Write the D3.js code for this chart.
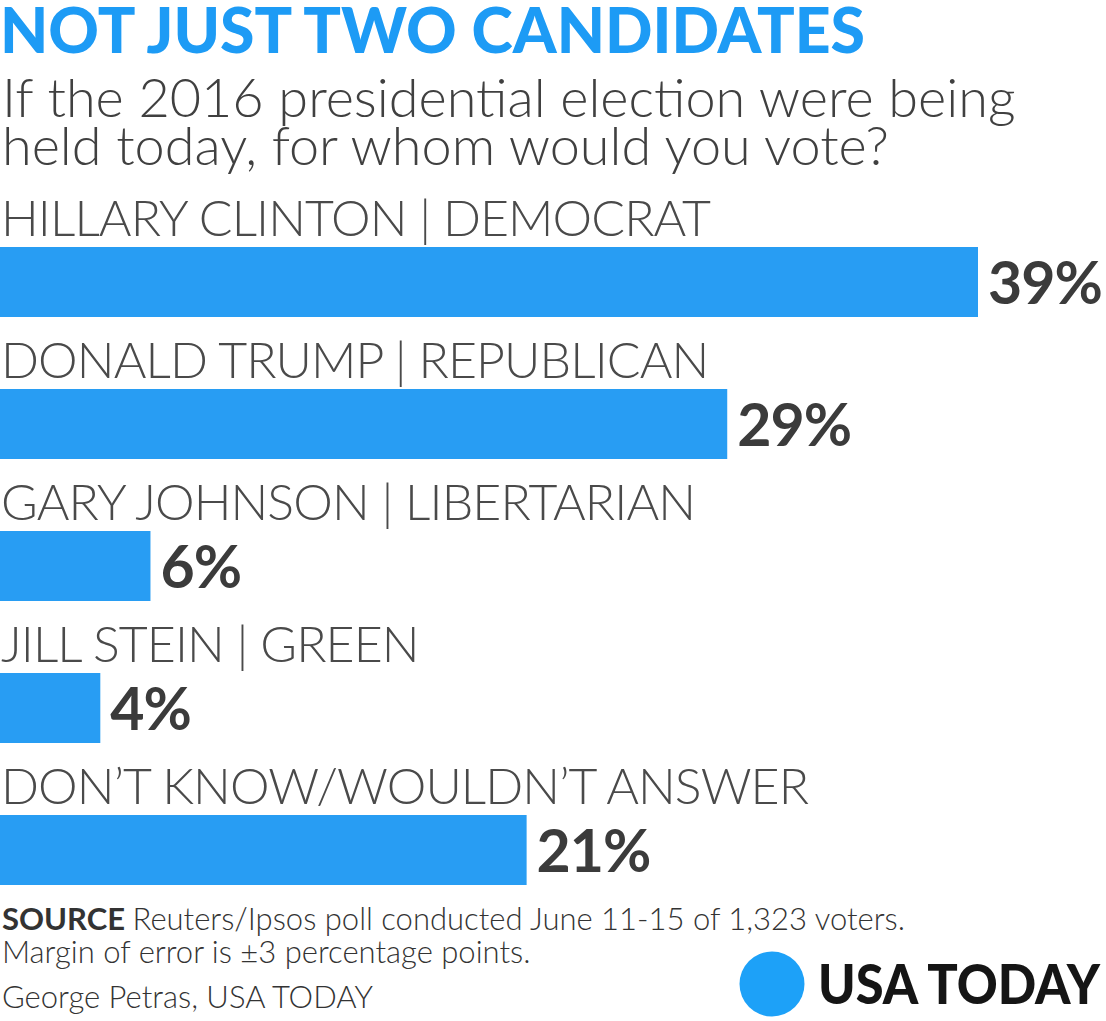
<!DOCTYPE html>
<html>
<head>
<meta charset="utf-8">
<script src="https://cdn.jsdelivr.net/npm/d3@7"></script>
<style>
  html, body { margin: 0; padding: 0; background: #fff; }
  svg { display: block; }
</style>
</head>
<body>
<svg id="chart" width="1106" height="1021"></svg>
<script>
const candidates = ["HILLARY CLINTON", "DONALD TRUMP", "GARY JOHNSON", "JILL STEIN", "DON’T KNOW/WOULDN’T ANSWER"];
const parties = ["DEMOCRAT", "REPUBLICAN", "LIBERTARIAN", "GREEN", ""];
const values = [39, 29, 6, 4, 21];
const title = "NOT JUST TWO CANDIDATES";
const subtitle = ["If the 2016 presidential election were being", "held today, for whom would you vote?"];
const sourceText = "Reuters/Ipsos poll conducted June 11-15 of 1,323 voters.";
const noteText = "Margin of error is ±3 percentage points.";
const credit = "George Petras, USA TODAY";

const svg = d3.select("#chart");
const BLUE = "#289df3";
const TEXT = "#4a4a4a";
const DARK = "#3b3b3b";
const LIGHT = "Lato, 'Open Sans', sans-serif";

const labels = candidates.map((c, i) => parties[i] ? `${c} | ${parties[i]}` : c);

const x = d3.scaleLinear().domain([0, 39]).range([0, 978]);
const y = d3.scaleBand().domain(labels).range([247, 885]).paddingInner(72 / 142).paddingOuter(0);

// Title
svg.append("text")
  .attr("x", 0).attr("y", 53)
  .attr("fill", "#1d9bf5")
  .style("font-family", LIGHT).style("font-weight", 900).style("font-size", "63px")
  .attr("textLength", 865).attr("lengthAdjust", "spacingAndGlyphs")
  .text(title);

svg.selectAll("text.sub").data(subtitle).join("text")
  .attr("class", "sub")
  .attr("x", 2).attr("y", (d, i) => 117 + i * 48)
  .attr("fill", "#404040")
  .style("font-family", LIGHT).style("font-weight", 300).style("font-size", "54px")
  .text(d => d);

const rows = svg.selectAll("g.row").data(labels.map((l, i) => ({ label: l, value: values[i] }))).join("g").attr("class", "row");

rows.append("text")
  .attr("x", 1).attr("y", d => y(d.label) - 11)
  .attr("fill", TEXT)
  .style("font-family", LIGHT).style("font-weight", 300).style("font-size", "50px")
  .style("letter-spacing", "-0.9px")
  .text(d => d.label);

rows.append("rect")
  .attr("x", x(0)).attr("y", d => y(d.label))
  .attr("width", d => x(d.value)).attr("height", y.bandwidth())
  .attr("fill", BLUE);

rows.append("text")
  .attr("x", d => x(d.value) + 10).attr("y", d => y(d.label) + y.bandwidth() / 2 + 22)
  .attr("fill", DARK)
  .style("font-family", LIGHT).style("font-weight", 700).style("font-size", "59px")
  .style("letter-spacing", "-1px")
  .text(d => d.value + "%");

// Footer
const src = svg.append("text").attr("x", 2).attr("y", 930)
  .attr("fill", "#333")
  .style("font-family", LIGHT).style("font-size", "31px");
src.append("tspan").style("font-weight", 700).text("SOURCE ");
src.append("tspan").style("font-weight", 300).text(sourceText);

svg.append("text").attr("x", 2).attr("y", 963)
  .attr("fill", "#333")
  .style("font-family", LIGHT).style("font-weight", 300).style("font-size", "31px")
  .text(noteText);

svg.append("text").attr("x", 2).attr("y", 1008)
  .attr("fill", "#333")
  .style("font-family", LIGHT).style("font-weight", 300).style("font-size", "31px")
  .text(credit);

// Logo
svg.append("circle").attr("cx", 772).attr("cy", 984).attr("r", 32.5).attr("fill", "#1da1f8");
svg.append("text").attr("x", 818).attr("y", 1004)
  .attr("fill", "#151515")
  .style("font-family", LIGHT).style("font-weight", 900).style("font-size", "55px")
  .attr("textLength", 282).attr("lengthAdjust", "spacingAndGlyphs")
  .text("USA TODAY");
</script>
</body>
</html>
